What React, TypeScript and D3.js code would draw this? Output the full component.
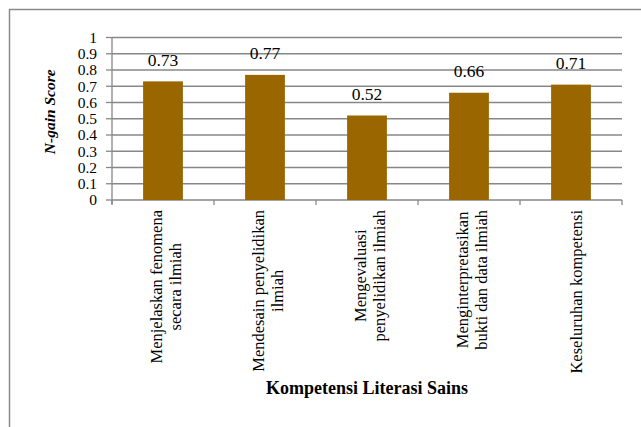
import React, { useRef, useEffect } from "react";
import * as d3 from "d3";

// categories (multi-line labels, split by "|") and N-gain values
const categories: string[] = [
  "Menjelaskan fenomena|secara ilmiah",
  "Mendesain penyelidikan|ilmiah",
  "Mengevaluasi|penyelidikan ilmiah",
  "Menginterpretasikan|bukti dan data ilmiah",
  "Keseluruhan kompetensi",
];
const values: number[] = [0.73, 0.77, 0.52, 0.66, 0.71];
const yTicks: number[] = [0, 0.1, 0.2, 0.3, 0.4, 0.5, 0.6, 0.7, 0.8, 0.9, 1];
const yTickLabels: string[] = ["0", "0.1", "0.2", "0.3", "0.4", "0.5", "0.6", "0.7", "0.8", "0.9", "1"];

const FONT = "'Liberation Serif', 'Times New Roman', serif";

const App: React.FC = () => {
  const svgRef = useRef<SVGSVGElement | null>(null);

  useEffect(() => {
    const width = 641;
    const height = 427;
    const svg = d3.select(svgRef.current).attr("width", width).attr("height", height);
    svg.selectAll("*").remove();

    const left = 112;
    const right = 622;
    const top = 37.5;
    const bottom = 200;
    const grid = "#878787";

    // outer chart border (runs off the page right and bottom)
    svg
      .append("rect")
      .attr("x", 9.5)
      .attr("y", 9.5)
      .attr("width", 700)
      .attr("height", 500)
      .attr("fill", "#fff")
      .attr("stroke", "#8a8a8a")
      .attr("stroke-width", 1.5);

    const x = d3
      .scaleBand<string>()
      .domain(categories)
      .range([left, right])
      .paddingInner(0.61)
      .paddingOuter(0.305);
    const step = x.step();
    const y = d3.scaleLinear().domain([0, 1]).range([bottom, top]);

    // gridlines
    svg
      .append("g")
      .selectAll("line")
      .data(yTicks.slice(1))
      .enter()
      .append("line")
      .attr("x1", left)
      .attr("x2", right)
      .attr("y1", (d) => y(d))
      .attr("y2", (d) => y(d))
      .attr("stroke", grid)
      .attr("stroke-width", 1.3);

    // y axis
    const yAxis = svg.append("g");
    yAxis
      .append("line")
      .attr("x1", left)
      .attr("x2", left)
      .attr("y1", top)
      .attr("y2", bottom + 4)
      .attr("stroke", grid)
      .attr("stroke-width", 1.3);
    yAxis
      .selectAll("line.tick")
      .data(yTicks)
      .enter()
      .append("line")
      .attr("class", "tick")
      .attr("x1", left - 6)
      .attr("x2", left)
      .attr("y1", (d) => y(d))
      .attr("y2", (d) => y(d))
      .attr("stroke", grid)
      .attr("stroke-width", 1.3);
    yAxis
      .selectAll("text")
      .data(yTicks)
      .enter()
      .append("text")
      .attr("x", 97)
      .attr("y", (d) => y(d))
      .attr("dy", "0.35em")
      .attr("text-anchor", "end")
      .style("font-family", FONT)
      .style("font-size", "15.5px")
      .attr("fill", "#000")
      .text((d, i) => yTickLabels[i]);

    // x axis
    svg
      .append("line")
      .attr("x1", left)
      .attr("x2", right)
      .attr("y1", bottom)
      .attr("y2", bottom)
      .attr("stroke", grid)
      .attr("stroke-width", 1.3);
    svg
      .append("g")
      .selectAll("line")
      .data(d3.range(categories.length + 1))
      .enter()
      .append("line")
      .attr("x1", (i) => left + i * step)
      .attr("x2", (i) => left + i * step)
      .attr("y1", bottom)
      .attr("y2", bottom + 5)
      .attr("stroke", grid)
      .attr("stroke-width", 1.3);

    // bars
    svg
      .append("g")
      .selectAll("rect")
      .data(values)
      .enter()
      .append("rect")
      .attr("x", (d, i) => x(categories[i])!)
      .attr("y", (d) => y(d))
      .attr("width", x.bandwidth())
      .attr("height", (d) => bottom - y(d))
      .attr("fill", "#996600");

    // value labels
    svg
      .append("g")
      .selectAll("text")
      .data(values)
      .enter()
      .append("text")
      .attr("x", (d, i) => x(categories[i])! + x.bandwidth() / 2)
      .attr("y", (d) => y(d) - 15.5)
      .attr("text-anchor", "middle")
      .style("font-family", FONT)
      .style("font-size", "17.5px")
      .attr("fill", "#000")
      .text((d) => d.toFixed(2));

    // category labels, rotated, top aligned at y=210
    categories.forEach((cat) => {
      const lines = cat.split("|");
      const cx = x(cat)! + x.bandwidth() / 2;
      const g = svg.append("g").attr("transform", `rotate(-90)`);
      const texts = lines.map((ln) =>
        g
          .append("text")
          .attr("text-anchor", "middle")
          .style("font-family", FONT)
          .style("font-size", "16.5px")
          .attr("fill", "#000")
          .text(ln)
      );
      const maxLen = d3.max(texts, (t) => (t.node() as SVGTextElement).getComputedTextLength()) || 0;
      texts.forEach((t, j) => {
        const off = lines.length === 1 ? 11 : -1 + j * 18.5;
        t.attr("x", -(210 + maxLen / 2)).attr("y", cx + off);
      });
    });

    // axis titles
    svg
      .append("text")
      .attr("transform", `translate(55,${(top + bottom) / 2 - 7}) rotate(-90)`)
      .attr("text-anchor", "middle")
      .style("font-family", FONT)
      .style("font-size", "15.5px")
      .style("font-weight", "bold")
      .style("font-style", "italic")
      .attr("fill", "#000")
      .text("N-gain Score");

    svg
      .append("text")
      .attr("x", (left + right) / 2)
      .attr("y", 394)
      .attr("text-anchor", "middle")
      .style("font-family", FONT)
      .style("font-size", "18px")
      .style("font-weight", "bold")
      .attr("fill", "#000")
      .text("Kompetensi Literasi Sains");
  }, []);

  return (
    <svg
      ref={svgRef}
      style={{ position: "absolute", left: 0, top: 0, background: "#fff" }}
    ></svg>
  );
};

export default App;
